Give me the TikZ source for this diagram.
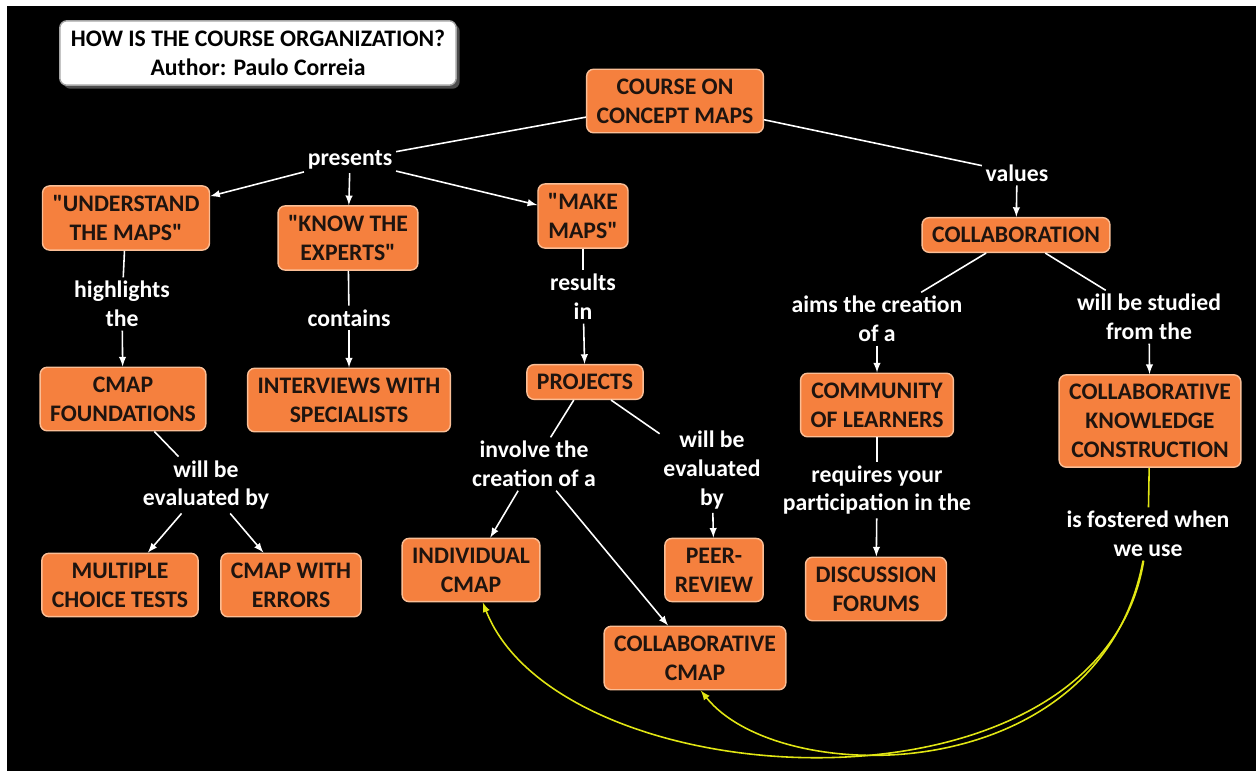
\documentclass[tikz,border=0pt]{standalone}
\usepackage{fontspec}
\setmainfont{Carlito}
\usetikzlibrary{shadows}

\definecolor{conceptfill}{RGB}{245,128,62}
\definecolor{conceptedge}{RGB}{250,190,150}
\definecolor{conceptink}{RGB}{30,20,15}
\definecolor{linkyellow}{RGB}{225,230,20}

\tikzset{
  concept/.style={draw=conceptedge, fill=conceptfill, text=conceptink, rounded corners=4pt,
    align=center, inner xsep=0.2cm, inner ysep=0.19cm, line width=0.8pt,
    font=\fontsize{13.5}{16.4}\selectfont\bfseries},
  titlebox/.style={concept, draw=gray!70, fill=white, text=black, inner xsep=0.22cm,
    drop shadow={shadow xshift=2pt, shadow yshift=-2pt, fill=gray!80}},
  linkword/.style={text=white, align=center, inner sep=2pt,
    font=\fontsize{13.5}{16.4}\selectfont\bfseries},
  relline/.style={draw=white, line width=0.9pt},
  relarrow/.style={relline, -latex},
  fosterline/.style={draw=linkyellow, line width=0.9pt},
}

\begin{document}
\begin{tikzpicture}[x=0.02cm, y=-0.02cm]
  \useasboundingbox (0,0) rectangle (1256,771);
  \fill[white] (0,0) rectangle (1256,771);
  \fill[black] (7,6) rectangle (1256,771);

  \node[titlebox] (heading) at (258,53) {HOW IS THE COURSE ORGANIZATION?\\Author: Paulo Correia};

  \node[concept] (course) at (675,101) {COURSE ON\\CONCEPT MAPS};
  \node[concept] (understand) at (126,218) {\textquotedbl UNDERSTAND\\THE MAPS\textquotedbl};
  \node[concept] (experts) at (348,238) {\textquotedbl KNOW THE\\EXPERTS\textquotedbl};
  \node[concept] (makemaps) at (583,216) {\textquotedbl MAKE\\MAPS\textquotedbl};
  \node[concept] (collab) at (1016,235) {COLLABORATION};
  \node[concept] (foundations) at (123,399) {CMAP\\FOUNDATIONS};
  \node[concept] (interviews) at (349,400) {INTERVIEWS WITH\\SPECIALISTS};
  \node[concept] (projects) at (585,382) {PROJECTS};
  \node[concept] (community) at (877,405) {COMMUNITY\\OF LEARNERS};
  \node[concept] (ckc) at (1150,421) {COLLABORATIVE\\KNOWLEDGE\\CONSTRUCTION};
  \node[concept] (mctests) at (120,585) {MULTIPLE\\CHOICE TESTS};
  \node[concept] (errors) at (291,585) {CMAP WITH\\ERRORS};
  \node[concept] (individual) at (471,570) {INDIVIDUAL\\CMAP};
  \node[concept] (peer) at (714,570) {PEER-\\REVIEW};
  \node[concept] (collabmap) at (695,658) {COLLABORATIVE\\CMAP};
  \node[concept] (forums) at (876,589) {DISCUSSION\\FORUMS};

  \node[linkword] (presents) at (350,160) {presents};
  \node[linkword] (values) at (1017,173) {values};
  \node[linkword] (highlights) at (122,304) {highlights\\the};
  \node[linkword] (contains) at (349,318) {contains};
  \node[linkword] (results) at (583,297) {results\\in};
  \node[linkword] (aims) at (877,319) {aims the creation\\of a};
  \node[linkword] (studied) at (1149,317) {will be studied\\from the};
  \node[linkword] (evalby) at (206,485) {will be\\evaluated by};
  \node[linkword] (involve) at (534,464) {involve the\\creation of a};
  \node[linkword] (peerby) at (712,470) {will be\\evaluated\\by};
  \node[linkword] (requires) at (877,490) {requires your\\participation in the};
  \node[linkword] (fosters) at (1148,534) {is fostered when\\we use};

  \draw[relline] (course) -- (presents);
  \draw[relarrow] (presents) -- (understand);
  \draw[relarrow] (presents) -- (experts);
  \draw[relarrow] (presents) -- (makemaps);
  \draw[relline] (course) -- (values);
  \draw[relarrow] (values) -- (collab);

  \draw[relline] (understand) -- (highlights);
  \draw[relarrow] (highlights) -- (foundations);
  \draw[relline] (experts) -- (contains);
  \draw[relarrow] (contains) -- (interviews);
  \draw[relline] (makemaps) -- (results);
  \draw[relarrow] (results) -- (projects);
  \draw[relline] (collab) -- (aims);
  \draw[relarrow] (aims) -- (community);
  \draw[relline] (collab) -- (studied);
  \draw[relarrow] (studied) -- (ckc);

  \draw[relline] (foundations) -- (evalby);
  \draw[relarrow] (evalby) -- (mctests);
  \draw[relarrow] (evalby) -- (errors);
  \draw[relline] (projects) -- (involve);
  \draw[relline] (projects) -- (peerby);
  \draw[relarrow] (involve) -- (individual);
  \draw[relarrow] (involve) -- (collabmap);
  \draw[relarrow] (peerby) -- (peer);
  \draw[relline] (community) -- (requires);
  \draw[relarrow] (requires) -- (forums);

  \draw[fosterline] (ckc) -- (fosters);
  \draw[fosterline, -latex] (fosters) .. controls (1100,790) and (780,790) .. (collabmap.-80);
  \draw[fosterline, -latex] (fosters) .. controls (1100,830) and (560,800) .. (individual.-70);
\end{tikzpicture}
\end{document}
